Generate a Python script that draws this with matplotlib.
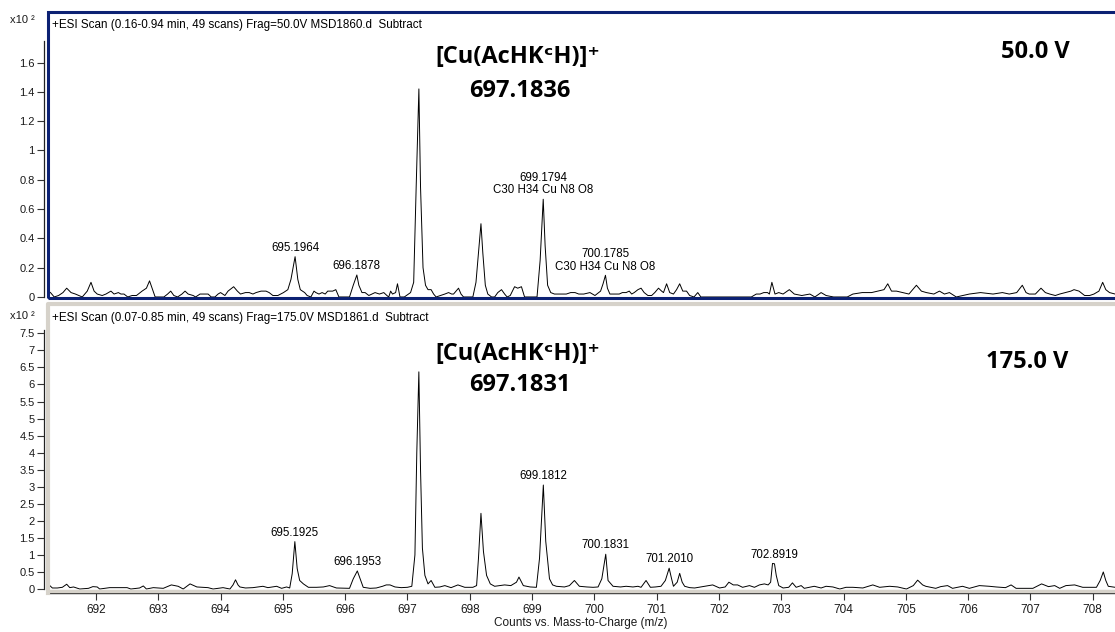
import matplotlib
matplotlib.use("Agg")
import matplotlib.pyplot as plt
import numpy as np
from matplotlib.patches import Rectangle

plt.rcParams["font.family"] = ["Liberation Sans", "DejaVu Sans"]

# 50 V spectrum (x10^2 counts), profile vertices
top_mz = [691.23, 691.27, 691.33, 691.40, 691.47, 691.53, 691.60, 691.67, 691.78, 691.86,
          691.92, 691.97, 692.02, 692.10, 692.16, 692.24, 692.29, 692.36, 692.40, 692.45,
          692.51, 692.58, 692.65, 692.74, 692.81, 692.86, 692.91, 692.95, 693.09, 693.15,
          693.20, 693.25, 693.31, 693.38, 693.43, 693.48, 693.56, 693.60, 693.67, 693.80,
          693.85, 693.91, 693.96, 694.00, 694.07, 694.12, 694.21, 694.27, 694.32, 694.40,
          694.46, 694.52, 694.57, 694.65, 694.73, 694.78, 694.84, 694.92, 695.01, 695.08,
          695.13, 695.1964, 695.24, 695.28, 695.35, 695.39, 695.45, 695.50, 695.53, 695.58,
          695.63, 695.68, 695.72, 695.80, 695.85, 695.90, 696.07, 696.13, 696.1878, 696.22,
          696.27, 696.32, 696.38, 696.43, 696.48, 696.55, 696.62, 696.67, 696.70, 696.73,
          696.76, 696.81, 696.84, 696.88, 696.95, 697.05, 697.10, 697.14, 697.1836, 697.21,
          697.25, 697.29, 697.33, 697.38, 697.42, 697.46, 697.53, 697.60, 697.66, 697.71,
          697.74, 697.78, 697.82, 697.86, 697.90, 698.05, 698.10, 698.14, 698.18, 698.21,
          698.25, 698.29, 698.35, 698.40, 698.45, 698.51, 698.56, 698.60, 698.65, 698.72,
          698.77, 698.83, 698.88, 699.08, 699.13, 699.1794, 699.21, 699.25, 699.30, 699.36,
          699.43, 699.55, 699.62, 699.69, 699.75, 699.83, 699.93, 700.01, 700.10, 700.14,
          700.1785, 700.21, 700.25, 700.31, 700.40, 700.45, 700.51, 700.56, 700.60, 700.64,
          700.70, 700.75, 700.80, 700.86, 700.92, 700.97, 701.03, 701.08, 701.11, 701.16,
          701.21, 701.27, 701.32, 701.37, 701.42, 701.48, 701.53, 701.60, 701.66, 701.71,
          702.52, 702.60, 702.66, 702.72, 702.78, 702.81, 702.85, 702.90, 702.96, 703.03,
          703.13, 703.21, 703.33, 703.46, 703.54, 703.64, 703.72, 703.84, 704.06, 704.15,
          704.30, 704.45, 704.55, 704.65, 704.71, 704.77, 704.85, 704.95, 705.05, 705.17,
          705.25, 705.33, 705.45, 705.54, 705.62, 705.70, 705.81, 706.02, 706.20, 706.40,
          706.55, 706.66, 706.78, 706.87, 706.93, 706.98, 707.08, 707.17, 707.24, 707.31,
          707.40, 707.47, 707.56, 707.65, 707.70, 707.78, 707.87, 707.95, 708.02, 708.10,
          708.16, 708.21, 708.27, 708.36]
top_int = [0.04, 0.03, 0.00, 0.01, 0.03, 0.06, 0.03, 0.02, 0.00, 0.04,
           0.10, 0.04, 0.02, 0.01, 0.02, 0.04, 0.02, 0.03, 0.02, 0.02,
           0.00, 0.01, 0.01, 0.04, 0.06, 0.11, 0.05, 0.00, 0.00, 0.02,
           0.04, 0.01, 0.00, 0.02, 0.04, 0.02, 0.01, 0.00, 0.02, 0.02,
           0.00, 0.00, 0.02, 0.03, 0.01, 0.04, 0.07, 0.04, 0.02, 0.03,
           0.03, 0.02, 0.03, 0.04, 0.04, 0.03, 0.01, 0.01, 0.03, 0.05,
           0.12, 0.275, 0.12, 0.05, 0.03, 0.01, 0.00, 0.04, 0.03, 0.02,
           0.03, 0.02, 0.04, 0.04, 0.05, 0.00, 0.00, 0.08, 0.15, 0.08,
           0.03, 0.03, 0.01, 0.02, 0.03, 0.02, 0.03, 0.01, 0.00, 0.04,
           0.02, 0.03, 0.09, 0.00, 0.00, 0.03, 0.10, 0.75, 1.42, 0.75,
           0.20, 0.08, 0.05, 0.05, 0.02, 0.00, 0.01, 0.02, 0.03, 0.02,
           0.02, 0.04, 0.06, 0.02, 0.00, 0.00, 0.10, 0.30, 0.50, 0.30,
           0.08, 0.02, 0.00, 0.00, 0.03, 0.05, 0.02, 0.00, 0.01, 0.07,
           0.06, 0.07, 0.00, 0.00, 0.25, 0.667, 0.35, 0.08, 0.03, 0.02,
           0.02, 0.02, 0.03, 0.03, 0.02, 0.02, 0.03, 0.01, 0.04, 0.09,
           0.148, 0.06, 0.02, 0.02, 0.02, 0.03, 0.03, 0.04, 0.02, 0.03,
           0.05, 0.06, 0.03, 0.01, 0.01, 0.03, 0.06, 0.04, 0.03, 0.09,
           0.03, 0.02, 0.05, 0.09, 0.04, 0.04, 0.01, 0.00, 0.03, 0.00,
           0.00, 0.02, 0.02, 0.03, 0.03, 0.02, 0.10, 0.02, 0.03, 0.02,
           0.05, 0.02, 0.01, 0.02, 0.00, 0.03, 0.01, 0.00, 0.00, 0.02,
           0.03, 0.03, 0.04, 0.05, 0.09, 0.04, 0.04, 0.03, 0.02, 0.08,
           0.04, 0.03, 0.02, 0.04, 0.02, 0.03, 0.00, 0.02, 0.03, 0.02,
           0.03, 0.02, 0.03, 0.08, 0.03, 0.02, 0.02, 0.06, 0.03, 0.02,
           0.01, 0.02, 0.03, 0.04, 0.05, 0.04, 0.01, 0.01, 0.02, 0.04,
           0.10, 0.05, 0.03, 0.02]

# 175 V spectrum (x10^2 counts), profile vertices
bot_mz = [691.23, 691.26, 691.30, 691.38, 691.46, 691.53, 691.58, 691.64, 691.74, 691.88,
          691.95, 692.02, 692.06, 692.22, 692.35, 692.50, 692.56, 692.70, 692.76, 692.81,
          692.92, 693.08, 693.21, 693.32, 693.40, 693.51, 693.62, 693.80, 693.88, 694.04,
          694.15, 694.20, 694.24, 694.28, 694.31, 694.40, 694.52, 694.68, 694.76, 694.90,
          694.98, 695.06, 695.11, 695.15, 695.1925, 695.23, 695.27, 695.33, 695.41, 695.54,
          695.65, 695.75, 695.86, 696.07, 696.13, 696.1953, 696.24, 696.29, 696.40, 696.50,
          696.60, 696.66, 696.72, 696.80, 696.90, 697.00, 697.07, 697.12, 697.15, 697.1831,
          697.21, 697.24, 697.28, 697.33, 697.38, 697.44, 697.52, 697.60, 697.70, 697.81,
          697.92, 698.05, 698.11, 698.14, 698.18, 698.22, 698.27, 698.33, 698.40, 698.48,
          698.56, 698.66, 698.75, 698.79, 698.86, 698.97, 699.07, 699.12, 699.1812, 699.22,
          699.28, 699.33, 699.39, 699.52, 699.60, 699.68, 699.76, 699.88, 699.98, 700.06,
          700.12, 700.1831, 700.22, 700.30, 700.42, 700.51, 700.62, 700.70, 700.75, 700.83,
          700.90, 700.98, 701.07, 701.14, 701.201, 701.24, 701.27, 701.33, 701.37, 701.41,
          701.45, 701.53, 701.61, 701.77, 701.90, 702.01, 702.10, 702.16, 702.23, 702.30,
          702.38, 702.49, 702.57, 702.65, 702.73, 702.79, 702.83, 702.86, 702.8919, 702.92,
          702.96, 703.03, 703.12, 703.18, 703.24, 703.32, 703.37, 703.53, 703.64, 703.72,
          703.83, 703.94, 704.04, 704.15, 704.31, 704.47, 704.58, 704.74, 704.87, 705.01,
          705.12, 705.19, 705.27, 705.32, 705.48, 705.56, 705.67, 705.75, 705.91, 706.02,
          706.18, 706.34, 706.45, 706.60, 706.69, 706.77, 707.04, 707.18, 707.29, 707.39,
          707.47, 707.57, 707.71, 707.84, 708.06, 708.12, 708.17, 708.21, 708.25, 708.36]
bot_int = [0.15, 0.10, 0.03, 0.03, 0.05, 0.14, 0.04, 0.06, 0.00, 0.02,
           0.07, 0.06, 0.00, 0.04, 0.04, 0.04, 0.00, 0.03, 0.09, 0.00,
           0.04, 0.02, 0.12, 0.08, 0.00, 0.15, 0.06, 0.04, 0.00, 0.04,
           0.00, 0.12, 0.27, 0.12, 0.06, 0.03, 0.04, 0.08, 0.04, 0.08,
           0.02, 0.06, 0.03, 0.45, 1.39, 0.60, 0.25, 0.15, 0.05, 0.05,
           0.06, 0.10, 0.03, 0.02, 0.30, 0.53, 0.30, 0.05, 0.02, 0.03,
           0.08, 0.12, 0.12, 0.06, 0.04, 0.05, 0.08, 1.00, 4.00, 6.37,
           3.50, 1.20, 0.40, 0.15, 0.25, 0.05, 0.06, 0.10, 0.04, 0.12,
           0.05, 0.05, 0.10, 0.90, 2.22, 1.10, 0.40, 0.15, 0.08, 0.10,
           0.12, 0.10, 0.20, 0.35, 0.10, 0.06, 0.05, 0.90, 3.05, 1.40,
           0.30, 0.12, 0.08, 0.06, 0.10, 0.25, 0.08, 0.06, 0.05, 0.06,
           0.30, 1.02, 0.25, 0.08, 0.06, 0.08, 0.06, 0.08, 0.05, 0.25,
           0.05, 0.06, 0.08, 0.25, 0.61, 0.30, 0.08, 0.20, 0.46, 0.20,
           0.08, 0.04, 0.03, 0.08, 0.12, 0.03, 0.06, 0.20, 0.12, 0.12,
           0.05, 0.10, 0.05, 0.12, 0.15, 0.12, 0.20, 0.75, 0.74, 0.40,
           0.10, 0.03, 0.05, 0.18, 0.05, 0.10, 0.02, 0.08, 0.03, 0.08,
           0.06, 0.00, 0.05, 0.05, 0.03, 0.12, 0.05, 0.08, 0.06, 0.00,
           0.10, 0.26, 0.12, 0.08, 0.02, 0.07, 0.10, 0.02, 0.08, 0.02,
           0.10, 0.08, 0.06, 0.04, 0.12, 0.02, 0.02, 0.15, 0.07, 0.10,
           0.02, 0.10, 0.12, 0.05, 0.05, 0.25, 0.50, 0.25, 0.08, 0.05]

top_title = "+ESI Scan (0.16-0.94 min, 49 scans) Frag=50.0V MSD1860.d  Subtract"
bot_title = "+ESI Scan (0.07-0.85 min, 49 scans) Frag=175.0V MSD1861.d  Subtract"

# labelled peaks: (m/z, label text)
top_labels = [(695.1964, "695.1964"), (696.1878, "696.1878"),
              (699.1794, "699.1794\nC30 H34 Cu N8 O8"),
              (700.1785, "700.1785\nC30 H34 Cu N8 O8")]
bot_labels = [(695.1925, "695.1925"), (696.1953, "696.1953"), (699.1812, "699.1812"),
              (700.1831, "700.1831"), (701.2010, "701.2010"), (702.8919, "702.8919")]

top_yticks = [0, 0.2, 0.4, 0.6, 0.8, 1, 1.2, 1.4, 1.6]
bot_yticks = [0, 0.5, 1, 1.5, 2, 2.5, 3, 3.5, 4, 4.5, 5, 5.5, 6, 6.5, 7, 7.5]
xticks = list(range(692, 709))

W, H = 1115, 632
fig = plt.figure(figsize=(W / 100, H / 100), dpi=100)
fig.patch.set_facecolor("white")

def px_box(x0, y0, x1, y1):
    return [x0 / W, 1 - y1 / H, (x1 - x0) / W, (y1 - y0) / H]

# panels run slightly past the right edge, as in the instrument window
ax1 = fig.add_axes(px_box(48, 12, 1117, 298))
ax2 = fig.add_axes(px_box(48, 304, 1117, 593))

xlim = (691.23, 708.39)
navy = "#0c2173"
gray = "#d6d2ca"
txt = "#1a1a1a"

def fmt(v):
    return ("%g" % v)

for ax, mz, inten, yt, ylim, ytop in [
        (ax1, top_mz, top_int, top_yticks, (-0.007, 1.945), 1.75),
        (ax2, bot_mz, bot_int, bot_yticks, (-0.117, 8.36), 7.6)]:
    ax.plot(mz, inten, color="black", lw=0.7)
    ax.set_xlim(*xlim)
    ax.set_ylim(*ylim)
    ax.set_yticks(yt)
    ax.set_yticklabels([fmt(v) for v in yt])
    ax.tick_params(axis="y", length=5, width=0.8, color="#333333", pad=1.5,
                   labelsize=8, labelcolor=txt)
    for s in ["top", "right", "bottom"]:
        ax.spines[s].set_visible(False)
    ax.spines["left"].set_position(("outward", 3))
    ax.spines["left"].set_bounds(0, ytop)
    ax.spines["left"].set_color("#222222")
    ax.spines["left"].set_linewidth(0.9)

# top panel: selected frame, no x axis
ax1.set_xticks([])
ax1.add_patch(Rectangle((0, 0), 1, 1, transform=ax1.transAxes, fill=False,
                        edgecolor=navy, lw=2.2, clip_on=False, zorder=5))

# bottom panel: gray frame and m/z axis
ax2.plot([0, 0, 1], [0, 1, 1], transform=ax2.transAxes, color=gray, lw=3,
         clip_on=False, zorder=4)
ax2.plot([0, 1], [0.006, 0.006], transform=ax2.transAxes, color=gray, lw=2.5,
         clip_on=False, zorder=4)
ax2.spines["bottom"].set_visible(True)
ax2.spines["bottom"].set_color("#222222")
ax2.spines["bottom"].set_linewidth(1.0)
ax2.set_xticks(xticks)
ax2.set_xticklabels([str(v) for v in xticks])
ax2.tick_params(axis="x", length=5, width=0.8, color="#333333", pad=3,
                labelsize=8.5, labelcolor=txt)
ax2.set_xlabel("Counts vs. Mass-to-Charge (m/z)", fontsize=8.5, color=txt)
ax2.xaxis.set_label_coords(0.5 - 2 / 1069, -0.083)

ax1.text(0.004, 0.955, top_title, transform=ax1.transAxes, fontsize=8.4,
         va="center", ha="left", color="black")
ax2.text(0.004, 0.952, bot_title, transform=ax2.transAxes, fontsize=8.4,
         va="center", ha="left", color="black")

fig.text(10 / W, 1 - 20 / H, "x10 ²", fontsize=8, color=txt, va="center", ha="left")
fig.text(10 / W, 1 - 316 / H, "x10 ²", fontsize=8, color=txt, va="center", ha="left")

# peak labels sit just above their apex
for ax, mz, inten, labels in [(ax1, top_mz, top_int, top_labels),
                              (ax2, bot_mz, bot_int, bot_labels)]:
    for m, label in labels:
        i = int(np.argmin(np.abs(np.array(mz) - m)))
        ax.annotate(label, (m, inten[i]), xytext=(0, 2), textcoords="offset points",
                    ha="center", va="bottom", fontsize=8.3, color="black",
                    linespacing=1.1)

big = dict(fontsize=17, fontweight="bold", family=["Open Sans", "DejaVu Sans"],
           ha="center", va="center", color="black")
fig.text(518 / W, 1 - 57 / H, "[Cu(AcHKᶜH)]⁺", **big)
fig.text(520 / W, 1 - 91 / H, "697.1836", **big)
fig.text(518 / W, 1 - 354 / H, "[Cu(AcHKᶜH)]⁺", **big)
fig.text(520 / W, 1 - 385 / H, "697.1831", **big)
fig.text(1035 / W, 1 - 52 / H, "50.0 V", **big)
fig.text(1027 / W, 1 - 362 / H, "175.0 V", **big)

fig.savefig("out.png", dpi=100)
